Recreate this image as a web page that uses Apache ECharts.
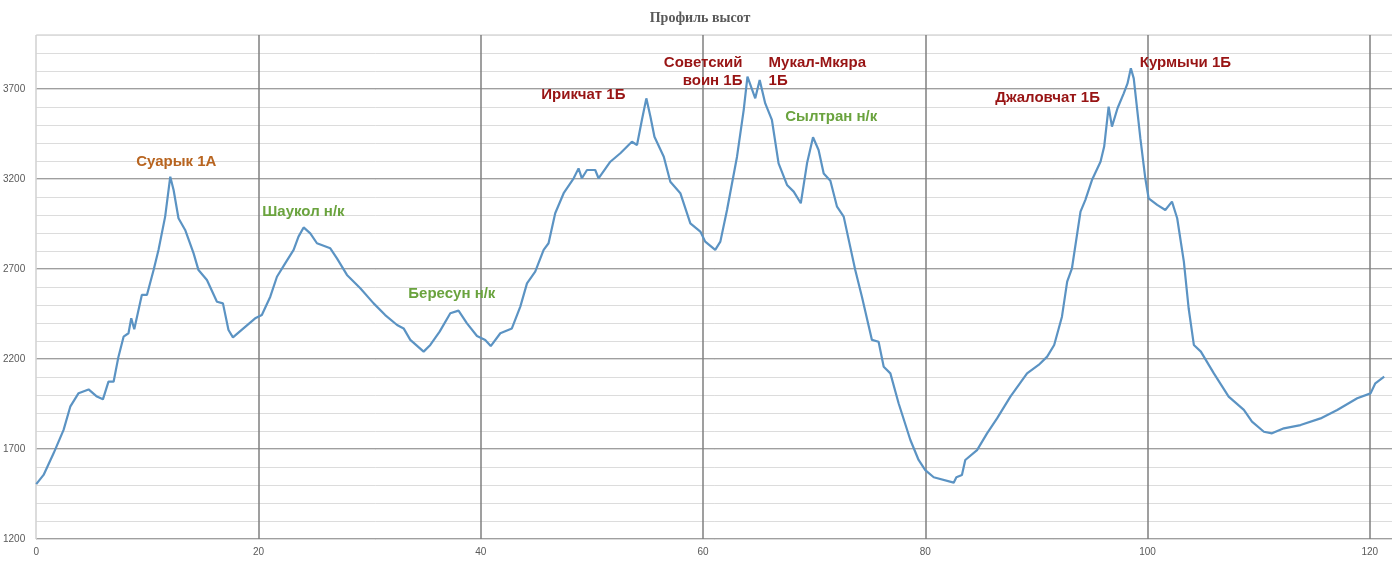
<!DOCTYPE html>
<html>
<head>
<meta charset="utf-8">
<script src="https://cdn.jsdelivr.net/npm/echarts@6/dist/echarts.min.js"></script>
<style>
html,body{margin:0;padding:0;background:#fff;}
#chart{width:1400px;height:562px;}
</style>
</head>
<body>
<div id="chart"></div>
<script>
// distance along route, km
const distance = [0,0.66,1.56,2.46,3.06,3.81,4.71,5.46,6.0,6.5,6.96,7.4,7.86,8.3,8.55,8.82,9.5,9.96,10.56,11.0,11.6,12.06,12.36,12.8,13.4,14.16,14.6,15.36,16.26,16.8,17.3,17.7,18.3,19.7,20.3,21.06,21.66,22.4,23.16,23.6,24.06,24.66,25.26,26.46,27.06,27.96,29.16,30.36,31.4,32.47,33.06,33.66,34.86,35.46,36.3,37.26,38.0,38.76,39.66,40.4,40.9,41.76,42.8,43.56,44.16,44.9,45.66,46.1,46.7,47.46,48.36,48.8,49.1,49.56,50.3,50.6,51.66,52.56,53.6,54.06,54.5,54.9,55.27,55.63,56.47,57.06,57.96,58.86,59.76,60.2,61.1,61.56,62.16,63.06,63.66,64.0,64.7,65.1,65.6,66.2,66.8,67.56,68.16,68.8,69.36,69.9,70.4,70.86,71.46,72.06,72.66,73.7,74.3,75.2,75.8,76.26,76.86,77.6,78.66,79.4,80.0,80.76,82.56,82.8,83.3,83.6,84.66,85.56,86.46,87.66,89.16,90.2,90.97,91.6,92.3,92.77,93.2,93.97,94.4,95.0,95.77,96.1,96.5,96.8,97.3,97.86,98.2,98.5,98.76,99.36,99.8,100.1,100.87,101.6,102.2,102.67,103.27,103.7,104.17,104.8,105.97,107.3,108.67,109.4,110.47,111.2,112.27,113.77,115.57,117.07,118.87,120.07,120.5,121.3];
// elevation, m
const elevation = [1505,1556,1676,1806,1935,2010,2031,1991,1976,2074,2074,2213,2324,2343,2426,2365,2556,2556,2694,2806,2991,3213,3139,2982,2917,2787,2694,2639,2518,2509,2361,2320,2352,2426,2444,2546,2657,2731,2806,2880,2931,2898,2843,2815,2759,2667,2593,2509,2444,2389,2370,2306,2241,2278,2352,2454,2469,2398,2328,2306,2272,2343,2370,2491,2620,2685,2806,2843,3010,3121,3204,3259,3204,3250,3250,3204,3296,3343,3407,3389,3528,3648,3546,3435,3324,3185,3121,2954,2908,2852,2806,2852,3028,3324,3583,3769,3648,3750,3620,3528,3287,3167,3130,3065,3287,3432,3361,3231,3190,3046,2991,2694,2546,2306,2296,2157,2120,1954,1750,1639,1583,1543,1513,1543,1556,1639,1694,1787,1870,1991,2120,2167,2213,2278,2435,2630,2704,3019,3083,3194,3296,3380,3602,3491,3593,3676,3731,3815,3759,3424,3204,3093,3056,3028,3074,2982,2741,2482,2278,2241,2120,1991,1917,1852,1796,1787,1815,1833,1870,1917,1982,2009,2065,2102];

// pass / peak annotations: name, category, anchor (km, m), text alignment
const passNames = ['Суарык 1А','Шаукол н/к','Бересун н/к','Ирикчат 1Б','Советский\nвоин 1Б','Мукал-Мкяра\n1Б','Сылтран н/к','Джаловчат 1Б','Курмычи 1Б'];
const passKind  = ['1А','нк','нк','1Б','1Б','1Б','нк','1Б','1Б'];
const passKm    = [12.6,20.34,33.48,45.45,63.55,65.9,67.4,86.3,99.3];
const passElev  = [3295,3017,2561,3667,3795,3795,3545,3650,3845];
const passAlign = ['center','left','left','left','right','left','left','left','left'];

const yMajorTicks = [1200,1700,2200,2700,3200,3700];
const xTicks = [0,20,40,60,80,100,120];

const kindColor = {'1А':'#b8641f','нк':'#6aa33e','1Б':'#981414'};

const chart = echarts.init(document.getElementById('chart'));
const grid = {left:36,right:8,top:35,bottom:23};

chart.setOption({
  animation:false,
  backgroundColor:'#fff',
  title:{
    text:'Профиль высот', left:'center', top:6,
    textStyle:{fontFamily:'Liberation Serif',fontWeight:'bold',fontSize:14,color:'#595959'}
  },
  grid:grid,
  xAxis:{
    type:'value', min:0, max:122, interval:20,
    axisLine:{show:false}, axisTick:{show:false},
    axisLabel:{color:'#595959',fontSize:10,fontFamily:'Liberation Sans',margin:8,
      formatter:v=>xTicks.indexOf(v)>=0?String(v):''},
    splitLine:{show:true,lineStyle:{width:1.5,color:['#d0d0d0','#7f7f7f','#7f7f7f','#7f7f7f','#7f7f7f','#7f7f7f','#7f7f7f','rgba(0,0,0,0)']}}
  },
  yAxis:[{
    type:'value', min:1200, max:4000, interval:500,
    axisLine:{show:false}, axisTick:{show:false},
    axisLabel:{color:'#595959',fontSize:10,fontFamily:'Liberation Sans',margin:11,
      formatter:v=>yMajorTicks.indexOf(v)>=0?String(v):''},
    splitLine:{show:true,lineStyle:{width:1.5,color:['#7f7f7f','#7f7f7f','#7f7f7f','#7f7f7f','#7f7f7f','#7f7f7f','#d9d9d9']}}
  },{
    type:'value', min:1200, max:4000, interval:100, position:'left',
    axisLine:{show:false}, axisTick:{show:false}, axisLabel:{show:false},
    splitLine:{show:true,lineStyle:{width:1,color:'#dcdcdc'}}
  }],
  series:[{
    type:'line',
    yAxisIndex:0,
    data:distance.map((d,i)=>[d,elevation[i]]),
    showSymbol:false,
    smooth:false,
    z:5,
    lineStyle:{color:'#5b93c3',width:2.2},
    itemStyle:{color:'#5b93c3'}
  },{
    type:'scatter',
    yAxisIndex:0,
    symbolSize:0,
    z:6,
    silent:true,
    itemStyle:{opacity:1},
    data:passNames.map((n,i)=>({
      value:[passKm[i],passElev[i]],
      label:{
        show:true,position:'inside',formatter:n,align:passAlign[i],verticalAlign:'middle',
        color:kindColor[passKind[i]],fontFamily:'Liberation Sans',fontWeight:'bold',fontSize:15,lineHeight:18
      }
    }))
  }]
});
</script>
</body>
</html>
